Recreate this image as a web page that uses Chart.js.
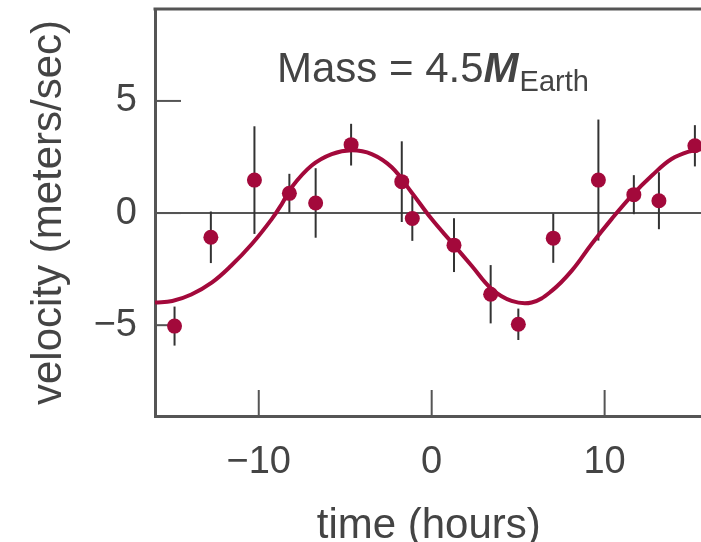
<!DOCTYPE html>
<html>
<head>
<meta charset="utf-8">
<script src="https://cdn.jsdelivr.net/npm/chart.js@4"></script>
<style>
  html, body { margin: 0; padding: 0; background: #fff; overflow: hidden; }
</style>
</head>
<body>
<canvas id="myChart" width="710" height="542"></canvas>
<script>
// observed points (hours, m/s) and their error bar half-lengths
var obsTime = [-14.87, -12.77, -10.25, -8.23, -6.71, -4.66, -1.73, -1.12, 1.29, 3.41, 5.01, 7.03, 9.64, 11.69, 13.14, 15.22];
var obsVel  = [-5.04, -1.08, 1.47, 0.88, 0.45, 3.05, 1.40, -0.24, -1.43, -3.62, -4.96, -1.12, 1.47, 0.82, 0.55, 3.00];
var obsErr  = [0.87, 1.15, 2.4, 0.87, 1.55, 0.93, 1.8, 1.0, 1.2, 1.3, 0.7, 1.1, 2.7, 0.87, 1.27, 0.92];

// fitted curve
var fitTime = [-16, -15, -13.9, -12.7, -11.6, -10.4, -9.25, -8.67, -8.1, -6.94, -5.78, -4.62, -3.47, -2.31, -1.16, 0, 1.16, 2.31, 3.47, 4.62, 5.78, 6.94, 8.09, 9.25, 10.4, 11.56, 12.72, 13.87, 15.03, 15.7];
var fitVel  = [-3.99, -3.92, -3.63, -3.09, -2.35, -1.38, -0.27, 0.40, 1.15, 2.12, 2.63, 2.80, 2.63, 2.04, 0.92, -0.27, -1.31, -2.35, -3.39, -3.92, -3.99, -3.47, -2.58, -1.38, -0.27, 0.77, 1.66, 2.41, 2.78, 2.86];

var xTicks = [-10, 0, 10];
var yTicks = [-5, 0, 5];

var red = '#a3093b';
var ink = '#555';
var txt = '#444';
var fam = '"Liberation Sans", Arial, sans-serif';

function minus(v){
  return v < 0 ? '\u2212' + Math.abs(v) : '' + v;
}

var frame = {
  id: 'frame',
  beforeDatasetsDraw: function(chart){
    var c = chart.ctx, a = chart.chartArea;
    var xs = chart.scales.x, ys = chart.scales.y;
    c.save();
    // inward ticks
    c.strokeStyle = ink;
    c.lineWidth = 2;
    xTicks.forEach(function(v){
      var px = xs.getPixelForValue(v);
      c.beginPath(); c.moveTo(px, a.bottom); c.lineTo(px, a.bottom - 26); c.stroke();
    });
    yTicks.forEach(function(v){
      var py = ys.getPixelForValue(v);
      c.beginPath(); c.moveTo(a.left, py); c.lineTo(a.left + 26, py); c.stroke();
    });
    // error bars
    c.strokeStyle = '#333';
    c.lineWidth = 2;
    for (var i = 0; i < obsTime.length; i++) {
      var px = xs.getPixelForValue(obsTime[i]);
      c.beginPath();
      c.moveTo(px, ys.getPixelForValue(obsVel[i] + obsErr[i]));
      c.lineTo(px, ys.getPixelForValue(obsVel[i] - obsErr[i]));
      c.stroke();
    }
    // top border
    c.strokeStyle = ink;
    c.lineWidth = 3;
    c.beginPath(); c.moveTo(a.left - 1.5, a.top); c.lineTo(a.right, a.top); c.stroke();
    c.restore();
  },
  afterDraw: function(chart){
    var c = chart.ctx;
    c.save();
    c.fillStyle = txt;
    c.textBaseline = 'alphabetic';
    c.font = '42px ' + fam;
    var s = 'Mass = 4.5';
    var x0 = 277;
    c.fillText(s, x0, 82);
    x0 += c.measureText(s).width;
    c.font = 'italic bold 42px ' + fam;
    c.fillText('M', x0, 82);
    x0 += c.measureText('M').width;
    c.font = '29px ' + fam;
    c.fillText('Earth', x0 + 1, 91);
    c.restore();
  }
};

var ctx = document.getElementById('myChart');
var myChart = new Chart(ctx, {
  type: 'scatter',
  data: {
    datasets: [
      {
        type: 'line',
        data: fitTime.map(function(t, i){ return {x: t, y: fitVel[i]}; }),
        borderColor: red,
        borderWidth: 4,
        pointRadius: 0,
        tension: 0.4,
        fill: false,
        order: 2
      },
      {
        data: obsTime.map(function(t, i){ return {x: t, y: obsVel[i]}; }),
        backgroundColor: red,
        borderWidth: 0,
        pointRadius: 7.5,
        order: 1
      }
    ]
  },
  options: {
    responsive: false,
    animation: false,
    layout: { padding: { top: 9, right: 0, left: 0, bottom: 0 } },
    plugins: { legend: { display: false }, tooltip: { enabled: false } },
    scales: {
      x: {
        type: 'linear',
        min: -16,
        max: 15.66,
        afterBuildTicks: function(scale){ scale.ticks = xTicks.map(function(v){ return {value: v}; }); },
        afterFit: function(scale){ scale.height = 126; scale.paddingLeft = 0; scale.paddingRight = 0; },
        grid: { display: false, drawTicks: false },
        border: { display: true, color: ink, width: 3 },
        ticks: { color: txt, font: { size: 38, family: fam }, padding: 24, maxRotation: 0, callback: minus },
        title: { display: true, text: 'time (hours)', color: txt, font: { size: 42, family: fam }, padding: { top: 0, bottom: -10 } }
      },
      y: {
        min: -9.05,
        max: 9.1,
        afterBuildTicks: function(scale){ scale.ticks = yTicks.map(function(v){ return {value: v}; }); },
        afterFit: function(scale){ scale.width = 155; scale.paddingTop = 0; scale.paddingBottom = 0; },
        grid: {
          drawTicks: false,
          color: function(c){ return c.tick && c.tick.value === 0 ? ink : 'rgba(0,0,0,0)'; },
          lineWidth: 2
        },
        border: { display: true, color: ink, width: 3 },
        ticks: { color: txt, font: { size: 38, family: fam }, padding: 18, callback: minus },
        title: { display: true, text: 'velocity (meters/sec)', color: txt, font: { size: 42, family: fam }, padding: { top: 24, bottom: 0 } }
      }
    }
  },
  plugins: [frame]
});
</script>
</body>
</html>
